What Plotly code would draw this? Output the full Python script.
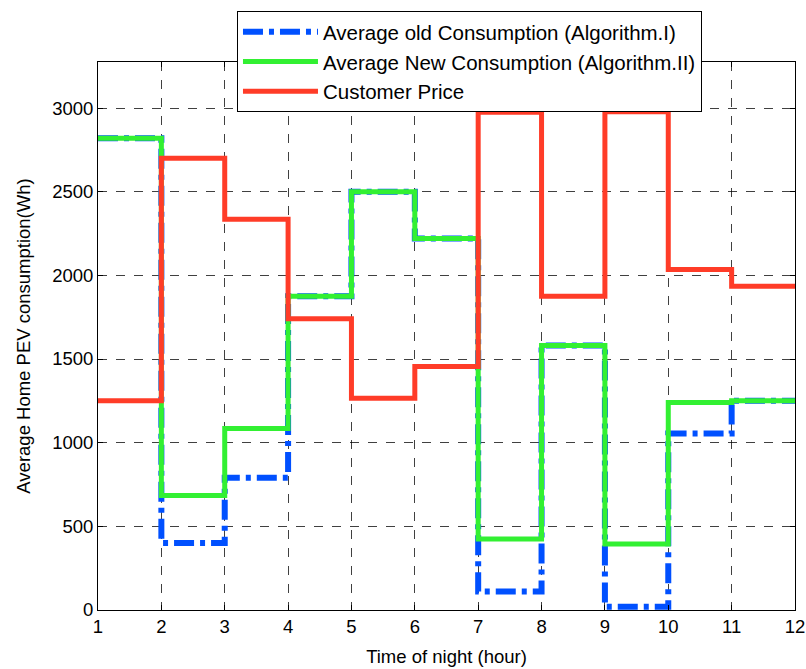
import plotly.graph_objects as go

hours = [1, 2, 3, 4, 5, 6, 7, 8, 9, 10, 11, 12]
old_consumption = [2820, 400, 790, 1875, 2500, 2220, 110, 1580, 20, 1055, 1250, 1250]
new_consumption = [2820, 685, 1085, 1875, 2500, 2220, 425, 1580, 395, 1240, 1250, 1250]
customer_price = [1250, 2700, 2335, 1740, 1265, 1455, 2975, 1875, 2978, 2035, 1935, 1935]

BLUE = "rgb(0,80,255)"
GREEN = "rgb(50,240,50)"
RED = "rgb(255,60,40)"
FS = 18.5

fig = go.Figure()
fig.add_trace(go.Scatter(x=hours, y=old_consumption, mode="lines", line_shape="hv",
                         name="Average old Consumption (Algorithm.I)", legendgroup="a",
                         line=dict(color=BLUE, width=6, dash="20px,6px,5px,6px")))
fig.add_trace(go.Scatter(x=hours, y=new_consumption, mode="lines", line_shape="hv",
                         name="Average New Consumption (Algorithm.II)", legendgroup="b",
                         line=dict(color=GREEN, width=5)))
fig.add_trace(go.Scatter(x=hours, y=customer_price, mode="lines", line_shape="hv",
                         name="Customer Price", legendgroup="c",
                         line=dict(color=RED, width=5)))

axis_common = dict(showline=True, linecolor="black", linewidth=1, mirror="ticks",
                   ticks="inside", ticklen=5, tickcolor="black", automargin=False,
                   showgrid=True, gridcolor="rgba(0,0,0,0.75)", griddash="dash", gridwidth=1,
                   zeroline=False, tickfont=dict(size=FS, color="black"))

fig.update_xaxes(range=[1, 12], tickvals=hours, **axis_common,
                 title=dict(text="Time of night (hour)", font=dict(size=FS, color="black"), standoff=13))
fig.update_yaxes(range=[0, 3275], tickvals=[0, 500, 1000, 1500, 2000, 2500, 3000], **axis_common,
                 title=dict(text="Average Home PEV consumption(Wh)", font=dict(size=FS, color="black"), standoff=16))

fig.update_layout(
    width=806, height=669,
    margin=dict(l=98, r=11, t=62, b=59, autoexpand=False),
    plot_bgcolor="white", paper_bgcolor="white",
    font=dict(family="Liberation Sans, Arial, sans-serif", size=FS, color="black"),
    legend=dict(x=0.1994, y=1.093, xanchor="left", yanchor="top",
                xref="paper", yref="paper",
                bgcolor="white", bordercolor="black", borderwidth=1,
                font=dict(size=20.5), tracegroupgap=0, itemwidth=75,
                traceorder="grouped"),
    showlegend=True,
)

fig.write_html("out.html")
